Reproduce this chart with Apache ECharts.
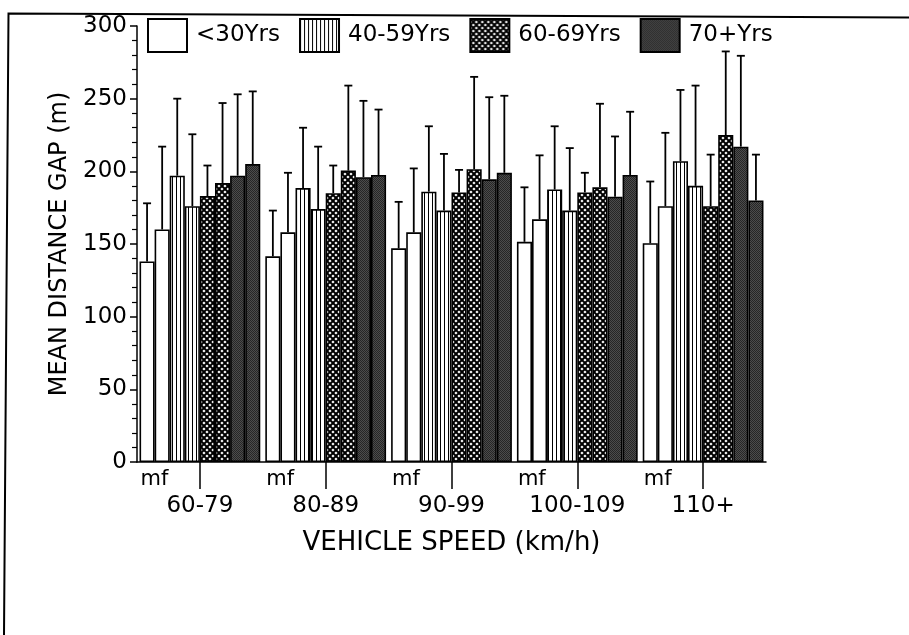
<!DOCTYPE html>
<html>
<head>
<meta charset="utf-8">
<script src="https://cdn.jsdelivr.net/npm/echarts@6/dist/echarts.min.js"></script>
<style>
  html, body { margin: 0; padding: 0; background: #fff; }
  #chart { width: 909px; height: 635px; }
</style>
</head>
<body>
<div id="chart"></div>
<script>
const speeds = ['60-79', '80-89', '90-99', '100-109', '110+'];
const ageGroups = ['<30Yrs', '40-59Yrs', '60-69Yrs', '70+Yrs'];

// mean gap (m), m = male, f = female
const m30 = [138, 141.5, 147, 151.5, 150.5];
const f30 = [160, 158, 158, 167, 176];
const m40 = [197, 188.5, 186, 187.5, 207];
const f40 = [176, 174, 173, 173, 190];
const m60 = [183, 185, 185.5, 185.5, 176];
const f60 = [192, 200.5, 201.5, 189, 225];
const m70 = [197, 196, 194.5, 182.5, 217];
const f70 = [205, 197.5, 199, 197.5, 180];

// standard deviations (error bar above the bar)
const sdM30 = [40, 31.5, 32, 37.5, 42.5];
const sdF30 = [57, 41, 44, 44, 50.5];
const sdM40 = [53, 41.5, 45, 43.5, 49];
const sdF40 = [49.5, 43, 39, 43, 69];
const sdM60 = [21, 19, 15.5, 13.5, 35.5];
const sdF60 = [55, 58.5, 63.5, 57.5, 57.5];
const sdM70 = [56, 52.5, 56.5, 41.5, 62.5];
const sdF70 = [50, 45, 53, 43.5, 31.5];

const sexLabel = 'mf';

const FONT = '"DejaVu Sans", sans-serif';
const catGap = 0.04;  // share of the band left empty

function tile(w, h, draw) {
  const c = document.createElement('canvas');
  c.width = w; c.height = h;
  draw(c.getContext('2d'));
  return c;
}

function diamond(g, x, y, r) {
  g.beginPath();
  g.moveTo(x, y - r); g.lineTo(x + r, y); g.lineTo(x, y + r); g.lineTo(x - r, y);
  g.closePath(); g.fill();
}

// fill patterns like the printed figure
const fills = [
  '#ffffff',
  { image: tile(4, 4, g => {
      g.fillStyle = '#fff'; g.fillRect(0, 0, 4, 4);
      g.fillStyle = '#000'; g.fillRect(0, 0, 1, 4);
    }), repeat: 'repeat' },
  { image: tile(6, 6, g => {
      g.fillStyle = '#000'; g.fillRect(0, 0, 6, 6);
      g.fillStyle = '#fff';
      [[3, 0], [3, 6], [0, 3], [6, 3]].forEach(p => diamond(g, p[0], p[1], 1.6));
    }), repeat: 'repeat' },
  { image: tile(2, 2, g => {
      g.fillStyle = '#262626'; g.fillRect(0, 0, 2, 2);
      g.fillStyle = '#4c4c4c'; g.fillRect(1, 0, 1, 1); g.fillRect(0, 1, 1, 1);
    }), repeat: 'repeat' }
];

const bars = [
  [0, m30, sdM30], [0, f30, sdF30],
  [1, m40, sdM40], [1, f40, sdF40],
  [2, m60, sdM60], [2, f60, sdF60],
  [3, m70, sdM70], [3, f70, sdF70]
];

const series = bars.map(([age, vals]) => ({
  name: ageGroups[age],
  type: 'bar',
  data: vals,
  barGap: '0%',
  barCategoryGap: (catGap * 100) + '%',
  itemStyle: { color: fills[age], borderColor: '#000', borderWidth: 1.6 },
  z: 2
}));

const errData = [];
bars.forEach(([age, vals, sds], slot) => {
  vals.forEach((v, i) => errData.push([i, slot, v, v + sds[i]]));
});

series.push({
  name: 'sd',
  type: 'custom',
  data: errData,
  encode: { x: 0, y: 3 },
  z: 3,
  renderItem(params, api) {
    const band = api.size([1, 0])[0];
    const bw = band * (1 - catGap) / bars.length;
    const cx = api.coord([api.value(0), 0])[0] - band * (1 - catGap) / 2 + bw * (api.value(1) + 0.5);
    const y0 = api.coord([api.value(0), api.value(2)])[1];
    const y1 = api.coord([api.value(0), api.value(3)])[1];
    const st = { stroke: '#000', lineWidth: 1.8 };
    return {
      type: 'group',
      children: [
        { type: 'line', shape: { x1: cx, y1: y0, x2: cx, y2: y1 }, style: st },
        { type: 'line', shape: { x1: cx - 4, y1: y1, x2: cx + 4, y2: y1 }, style: st }
      ]
    };
  }
});

// "mf" under the first two bars of each group
series.push({
  name: 'sex',
  type: 'custom',
  data: speeds.map((s, i) => [i, 0]),
  encode: { x: 0, y: 1 },
  silent: true,
  renderItem(params, api) {
    const band = api.size([1, 0])[0];
    const p = api.coord([api.value(0), 0]);
    return {
      type: 'text',
      x: p[0] - band * (1 - catGap) / 2 + 1,
      y: p[1] + 7,
      style: { text: sexLabel, font: '21px ' + FONT, fill: '#000', verticalAlign: 'top' }
    };
  }
});

const chart = echarts.init(document.getElementById('chart'), null, { renderer: 'canvas' });
chart.setOption({
  animation: false,
  backgroundColor: '#fff',
  textStyle: { fontFamily: FONT, color: '#000' },
  graphic: [{
    type: 'polyline',
    shape: { points: [[4, 635], [8.5, 13.5], [909, 17.5]] },
    style: { stroke: '#000', lineWidth: 2, fill: null }
  }],
  legend: {
    data: ageGroups,
    left: 147,
    top: 18,
    padding: 0,
    itemWidth: 39,
    itemHeight: 33,
    itemGap: 19,
    icon: 'rect',
    selectedMode: false,
    textStyle: { fontSize: 23, color: '#000', fontFamily: FONT, padding: [0, 0, 0, 4] }
  },
  grid: { left: 137, right: 143, top: 26, bottom: 173, containLabel: false },
  xAxis: {
    type: 'category',
    data: speeds,
    name: 'VEHICLE SPEED (km/h)',
    nameLocation: 'middle',
    nameGap: 68,
    nameTextStyle: { fontSize: 26, color: '#000', fontFamily: FONT },
    axisLine: { show: true, lineStyle: { color: '#000', width: 1.5 } },
    axisTick: { show: true, interval: 0, inside: false, alignWithLabel: true, length: 27, lineStyle: { color: '#000', width: 1.5 } },
    axisLabel: { fontSize: 23, color: '#000', margin: 33, fontFamily: FONT },
    splitLine: { show: false }
  },
  yAxis: {
    type: 'value',
    min: 0,
    max: 300,
    interval: 50,
    name: 'MEAN DISTANCE GAP (m)',
    nameLocation: 'middle',
    nameGap: 64,
    nameTextStyle: { fontSize: 24, color: '#000', fontFamily: FONT },
    axisLine: { show: true, lineStyle: { color: '#000', width: 1.5 } },
    axisTick: { show: true, length: 7, lineStyle: { color: '#000', width: 1.5 } },
    minorTick: { show: true, splitNumber: 5, length: 5, lineStyle: { color: '#000', width: 1.2 } },
    axisLabel: { fontSize: 23, color: '#000', margin: 10, fontFamily: FONT },
    splitLine: { show: false }
  },
  series: series
});
</script>
</body>
</html>
